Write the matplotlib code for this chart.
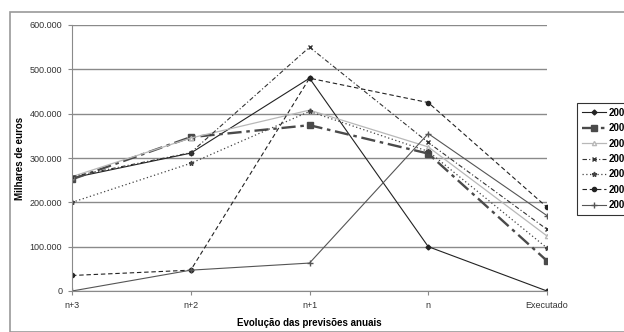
import matplotlib
matplotlib.use("Agg")
import matplotlib.pyplot as plt
from matplotlib.patches import Rectangle
from matplotlib.ticker import FuncFormatter

plt.rcParams["font.family"] = ["Liberation Sans", "DejaVu Sans"]

# categories on the x axis
stages = ["n+3", "n+2", "n+1", "n", "Executado"]

# one list per forecast year (values in thousands of euros)
labels = ["2001", "2002", "2003", "2004", "2005", "2006", "2007"]
y2001 = [255000, 311000, 480000, 100000, 0]
y2002 = [252000, 347000, 374000, 310000, 68000]
y2003 = [258000, 345000, 408000, 325000, 124000]
y2004 = [258000, 312000, 550000, 335000, 139000]
y2005 = [200000, 288000, 405000, 315000, 97000]
y2006 = [35000, 47000, 480000, 425000, 189000]
y2007 = [0, 47000, 63000, 355000, 170000]

series = [y2001, y2002, y2003, y2004, y2005, y2006, y2007]

styles = [
    dict(color="#222222", lw=0.8, ls="-", marker="D", ms=2.5),
    dict(color="#4a4a4a", lw=1.7, ls=(0, (6, 2, 1.5, 2)), marker="s", ms=5),
    dict(color="#b8b8b8", lw=0.9, ls="-", marker="^", ms=3, mfc="white"),
    dict(color="#333333", lw=0.8, ls=(0, (4, 2, 1, 2)), marker="x", ms=2.5),
    dict(color="#444444", lw=0.9, ls=(0, (1, 2)), marker="*", ms=3.5),
    dict(color="#222222", lw=0.8, ls=(0, (4, 2.5)), marker="o", ms=3),
    dict(color="#555555", lw=0.8, ls="-", marker="+", ms=4),
]

fig = plt.figure(figsize=(6.24, 3.32), dpi=100)
fig.patches.append(Rectangle((10 / 624, 0), 1.0, 1 - 12 / 332,
                             transform=fig.transFigure, fill=False,
                             edgecolor="#9a9a9a", lw=1.2))

ax = fig.add_axes([72 / 624, 1 - 291 / 332, 475 / 624, 266 / 332])
xs = list(range(len(stages)))

for vals, lab, st in zip(series, labels, styles):
    ax.plot(xs, vals, label=lab, **st)

ax.set_xlim(0, len(stages) - 1)
ax.set_ylim(0, 600000)
ax.set_yticks(range(0, 600001, 100000))
ax.yaxis.set_major_formatter(FuncFormatter(lambda v, p: f"{int(v):,}".replace(",", ".")))
ax.set_xticks(xs)
ax.set_xticklabels(stages)

ax.grid(axis="y", color="#8a8a8a", lw=1.0)
ax.set_axisbelow(True)
for side in ["top", "right"]:
    ax.spines[side].set_visible(False)
for side in ["left", "bottom"]:
    ax.spines[side].set_color("#8a8a8a")
ax.tick_params(axis="both", labelsize=6.5, colors="#8a8a8a", labelcolor="#333333",
               length=3, pad=4)

ax.set_ylabel("Milhares de euros", fontsize=7, fontweight="bold", labelpad=3)
ax.set_xlabel("Evolução das previsões anuais", fontsize=7, fontweight="bold", labelpad=6)

leg = ax.legend(loc="upper left", bbox_to_anchor=(577 / 624, 1 - 103 / 332),
                bbox_transform=fig.transFigure, frameon=True,
                fancybox=False, edgecolor="black", borderaxespad=0,
                handlelength=2.5, labelspacing=0.55, borderpad=0.5,
                handletextpad=0.3, prop={"weight": "bold", "size": 7})
leg.get_frame().set_linewidth(0.8)

fig.savefig("out.png", dpi=100)
